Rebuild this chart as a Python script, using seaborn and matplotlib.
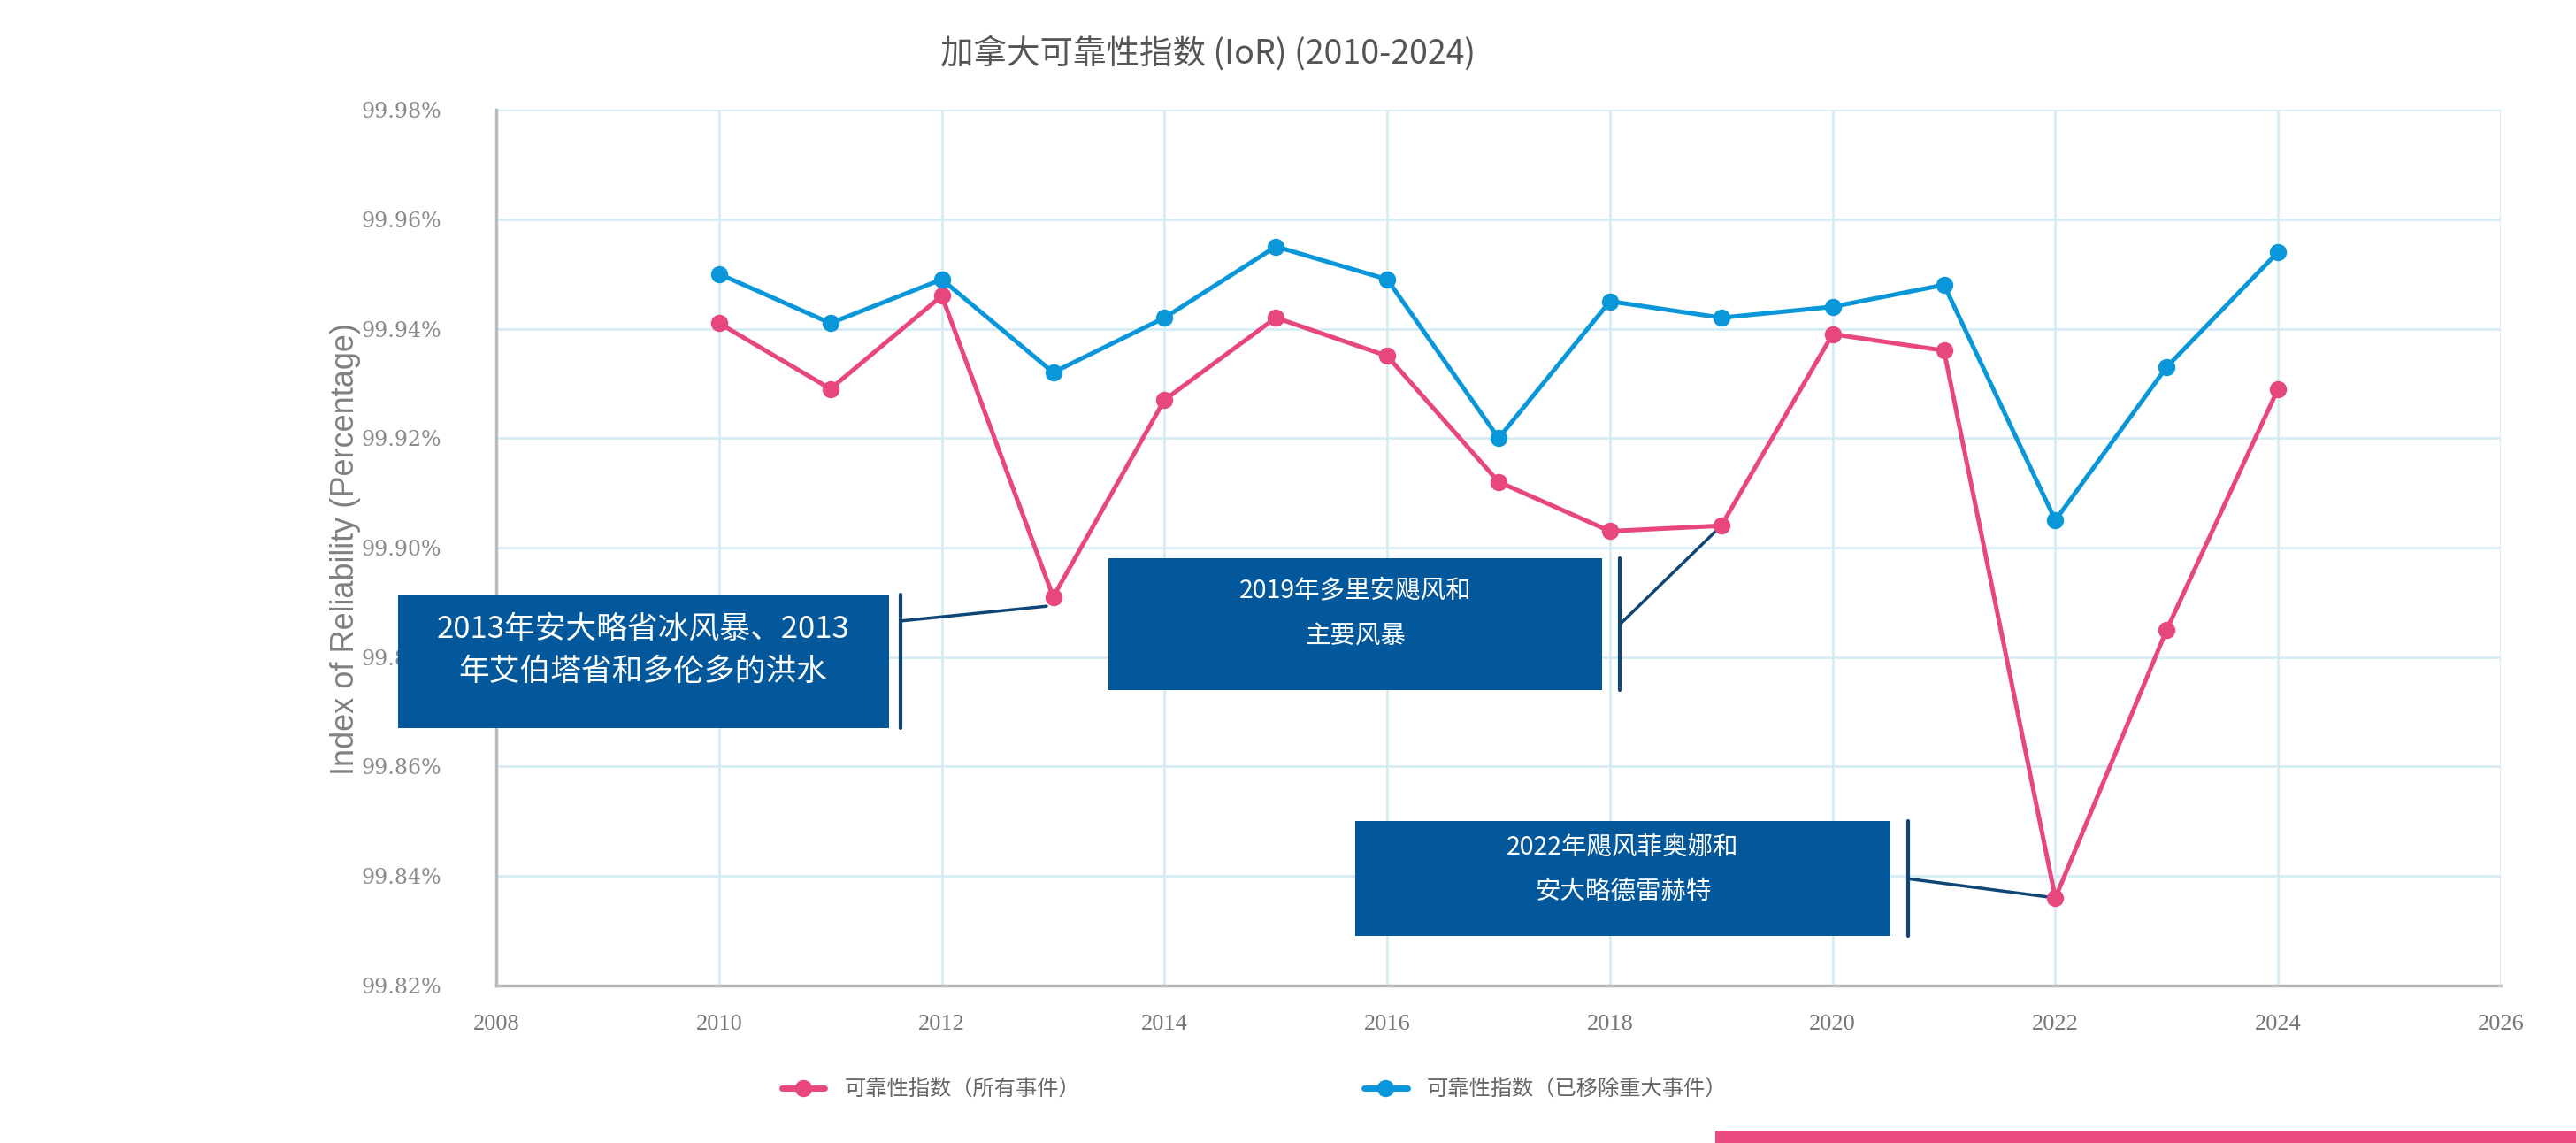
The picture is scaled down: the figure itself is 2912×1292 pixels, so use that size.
import numpy as np
import pandas as pd
import seaborn as sns
import matplotlib.pyplot as plt
from matplotlib.patches import Rectangle
from matplotlib.lines import Line2D

years = [2010, 2011, 2012, 2013, 2014, 2015, 2016, 2017, 2018, 2019, 2020, 2021, 2022, 2023, 2024]
ior_all = [99.941, 99.929, 99.946, 99.891, 99.927, 99.942, 99.935, 99.912, 99.903, 99.904,
           99.939, 99.936, 99.836, 99.885, 99.929]
ior_excl = [99.950, 99.941, 99.949, 99.932, 99.942, 99.955, 99.949, 99.920, 99.945, 99.942,
            99.944, 99.948, 99.905, 99.933, 99.954]
series_names = ["可靠性指数（所有事件）", "可靠性指数（已移除重大事件）"]
colors = ["#E8467F", "#0A97D9"]
title = "加拿大可靠性指数 (IoR) (2010-2024)"
ylabel = "Index of Reliability (Percentage)"
x_ticks = list(range(2008, 2027, 2))
y_ticks = [99.82, 99.84, 99.86, 99.88, 99.90, 99.92, 99.94, 99.96, 99.98]
notes = ["2013年安大略省冰风暴、2013\n年艾伯塔省和多伦多的洪水",
         "2019年多里安飓风和\n主要风暴",
         "2022年飓风菲奥娜和\n安大略德雷赫特"]
note_years = [2013, 2019, 2022]

sns.set_theme(style="whitegrid")
plt.rcParams['font.family'] = ['Noto Sans CJK SC', 'DejaVu Sans']

df = pd.DataFrame({
    "year": years * 2,
    "value": ior_all + ior_excl,
    "series": [series_names[0]] * len(years) + [series_names[1]] * len(years),
})

fig = plt.figure(figsize=(29.12, 12.92), dpi=100)
ax = fig.add_axes([0.1927, 0.1378, 0.9708 - 0.1927, 0.904 - 0.1378])

sns.lineplot(data=df, x="year", y="value", hue="series", palette=colors,
             marker="o", markersize=14, markeredgewidth=0, linewidth=3.6, ax=ax,
             legend=False, zorder=3)

ax.set_xlim(2008, 2026)
ax.set_ylim(99.82, 99.98)
ax.set_xticks(x_ticks)
ax.set_yticks(y_ticks)
ax.set_xticklabels([str(t) for t in x_ticks], family=['Liberation Serif'], fontsize=19, color="#777777")
ax.set_yticklabels([f"{t:.2f}%" for t in y_ticks], family=['DejaVu Serif'], fontsize=17, color="#8a8a8a")
ax.tick_params(axis='y', pad=45, length=0)
ax.tick_params(axis='x', pad=24, length=0)
ax.grid(True, color="#D6ECF4", linewidth=2)
for s in ["top", "right"]:
    ax.spines[s].set_visible(False)
for s in ["left", "bottom"]:
    ax.spines[s].set_color("#BBBBBB")
    ax.spines[s].set_linewidth(2.5)
ax.set_xlabel("")
ax.set_ylabel("")

fig.text(0.134, 0.52, ylabel, rotation=90, ha="center", va="center",
         fontsize=26, color="#808080", family=['Liberation Sans'])
fig.text(0.469, 0.953, title, ha="center", va="center", fontsize=27, color="#555555",
         family=['Noto Sans CJK SC', 'DejaVu Sans'], fontweight='light')

box_color = "#03589B"
line_color = "#0F4677"
boxes = [
    (2007.115, 2011.525, 99.8671, 99.8914, 2011.63, 99.8866, 25, 1.5, ior_all, 2012.94, 99.8893),
    (2013.50, 2017.93, 99.874, 99.898, 2018.09, 99.886, 20.5, 1.9, ior_all, None, None),
    (2015.71, 2020.52, 99.829, 99.850, 2020.68, 99.8395, 20.5, 1.9, ior_all, None, None),
]
for (x0, x1, y0, y1, bx, cy, fs, ls, ser, ex, ey), txt, ny in zip(boxes, notes, note_years):
    ax.add_patch(Rectangle((x0, y0), x1 - x0, y1 - y0, facecolor=box_color, edgecolor="none",
                           zorder=6, clip_on=False))
    ax.text((x0 + x1) / 2, (y0 + y1) / 2 + (y1 - y0) * 0.08, txt, ha="center", va="center",
            color="white", fontsize=fs, linespacing=ls, zorder=7, fontweight='light')
    ax.plot([bx, bx], [y0, y1], color=line_color, linewidth=3, zorder=6, clip_on=False)
    idx = years.index(ny)
    tx = ex if ex is not None else years[idx]
    ty = ey if ey is not None else ser[idx]
    ax.plot([bx, tx], [cy, ty], color=line_color, linewidth=2.5, zorder=2.8)

handles = [Line2D([0], [0], color=c, marker="o", markersize=14, markeredgewidth=0, linewidth=5)
           for c in colors]
fig.legend(handles, series_names, loc="center left", bbox_to_anchor=(0.296, 0.047), ncol=2,
           frameon=False, fontsize=17.5, handlelength=2.0, handletextpad=0.9,
           columnspacing=13.2, labelcolor="#666666")

fig.patches.append(Rectangle((1939 / 2912, 0), 1 - 1939 / 2912, 14 / 1292,
                             transform=fig.transFigure, facecolor="#E94B81",
                             edgecolor="none"))

fig.savefig("out.png", dpi=100)
